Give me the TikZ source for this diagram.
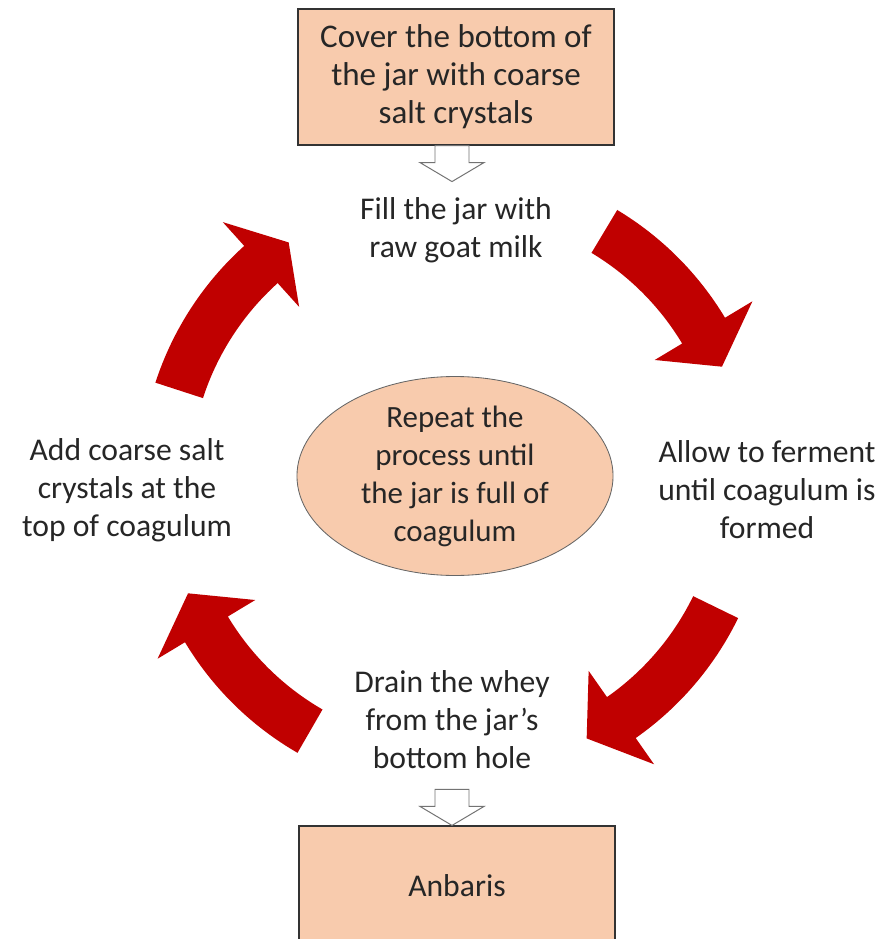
\documentclass[tikz,border=0pt]{standalone}
\usepackage{fontspec}
\setmainfont{Carlito}
\usetikzlibrary{calc,shapes.geometric}
\definecolor{peach}{HTML}{F8CBAD}
\definecolor{cyclered}{HTML}{C00000}

\begin{document}
\begin{tikzpicture}[x=0.025cm,y=0.025cm,
    every node/.style={font=\fontsize{22.5}{27}\selectfont,align=center,text=black!85},
    stepbox/.style={draw=black!80,line width=0.8pt,fill=peach,minimum width=7.9cm,inner sep=0pt},
    hollowarrow/.style={draw=black!55,line width=0.7pt,fill=white},
    cyclearrow/.style={fill=cyclered}]
    \useasboundingbox (0,0) rectangle (884,-939);
    \clip (0,0) rectangle (884,-939);
    % boxes and texts
    \node[stepbox,minimum height=3.4cm,font=\fontsize{23.5}{27}\selectfont] (cover) at (456,-77)
        {Cover the bottom of\\ the jar with coarse\\ salt crystals};
    \node (fill) at (456,-230) {Fill the jar with\\ raw goat milk};
    \node (ferment) at (767,-490) {Allow to ferment\\ until coagulum is\\ formed};
    \node (drain) at (452,-720) {Drain the whey\\ from the jar’s\\ bottom hole};
    \node (addsalt) at (127,-490) {Add coarse salt\\ crystals at the\\ top of coagulum};
    \node[ellipse,draw=black!60,line width=0.6pt,fill=peach,minimum width=7.9cm,minimum height=4.7cm,
        inner sep=0pt,font=\fontsize{22}{27}\selectfont] (repeat) at (455,-476)
        {Repeat the\\ process until\\ the jar is full of\\ coagulum};
    \node[stepbox,minimum height=2.975cm] (anbaris) at (457,-885.5) {Anbaris};
    % red cycle arrows
    \coordinate (mid) at (455,-480);
    \foreach \tail/\back/\tip in {162/132/125,59/31/23,-26/-55/-63,-120/-149/-157}
        \fill[cyclearrow] ($(mid)+(\tail:315)$) arc[start angle=\tail,end angle=\back,radius=315]
            -- ($(mid)+(\back:347)$) -- ($(mid)+(\tip:290)$) -- ($(mid)+(\back:233)$)
            -- ($(mid)+(\back:265)$) arc[start angle=\back,end angle=\tail,radius=265] -- cycle;
    % hollow arrows
    \draw[hollowarrow] (cover.south) ++(-21,0) -- ++(0,-17) -- ++(-15,0) -- ++(32,-19)
        -- ++(32,19) -- ++(-15,0) -- ++(0,17) -- cycle;
    \draw[hollowarrow] (anbaris.north) ++(-5,0) -- ++(-32,19) -- ++(15,0) -- ++(0,17)
        -- ++(34,0) -- ++(0,-17) -- ++(15,0) -- cycle;
\end{tikzpicture}
\end{document}
